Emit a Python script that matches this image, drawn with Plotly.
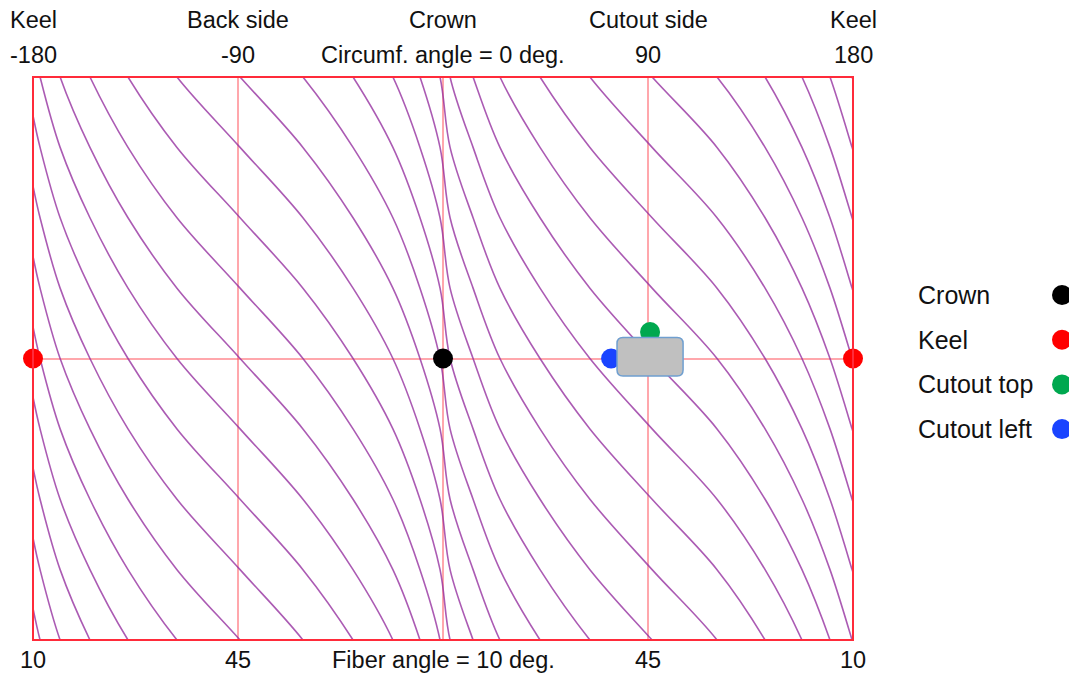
import plotly.graph_objects as go

# ---- data ----
# one fiber path: circumferential angle (deg) vs axial position (in units of line spacing)
path_circ_deg = [-180, -176.9, -168.1, -155.0, -138.3, -116.8, -89.1, -61.5, -39.5, -22.0,
                 -10.1, -1.3, 3.1, 13.2, 25.0, 42.6, 64.5, 91.8, 120.3, 141.4, 157.6,
                 169.9, 179.6, 180]
path_axial = [0.45, 0, -1, -2, -3, -4, -5, -6, -7, -8, -9, -10, -11, -12, -13, -14, -15,
              -16, -17, -18, -19, -20, -21, -21.04]
path_offsets = list(range(0, 31))   # repeated windings of the fiber path

top_ticks = [-180, -90, 0, 90, 180]
top_row1 = ["Keel", "Back side", "Crown", "Cutout side", "Keel"]
top_row2 = ["-180", "-90", "Circumf. angle = 0 deg.", "90", "180"]
bottom_row = ["10", "45", "Fiber angle = 10 deg.", "45", "10"]

point_x = [0, -180, 180, 90.9, 73.8]
point_y = [4.0, 4.0, 4.0, 4.375, 4.0]
point_colors = ["#000000", "#ff0000", "#ff0000", "#00a84f", "#1a44ff"]

legend_names = ["Crown", "Keel", "Cutout top", "Cutout left"]
legend_colors = ["#000000", "#ff0000", "#00a84f", "#1a44ff"]

cutout_x = [76.4, 105.4]
cutout_y = [3.75, 4.30]

X_RANGE = [-180, 180]
Y_RANGE = [0, 8]
FONT = "Liberation Sans, Arial, Helvetica, sans-serif"
AX_FS = 23.5
LEG_FS = 25

fig = go.Figure()

# fiber paths
xs, ys = [], []
for k in path_offsets:
    xs += path_circ_deg + [None]
    ys += [a + k for a in path_axial] + [None]
fig.add_trace(go.Scatter(x=xs, y=ys, mode="lines",
                         line=dict(color="rgba(150,50,160,0.8)", width=1.6, shape="spline"),
                         hoverinfo="skip", showlegend=False))

# cutout rectangle (rounded)
rx, ry = 2.6, 0.085
x0, x1 = cutout_x
y0, y1 = cutout_y
path = (f"M {x0+rx},{y0} L {x1-rx},{y0} Q {x1},{y0} {x1},{y0+ry} "
        f"L {x1},{y1-ry} Q {x1},{y1} {x1-rx},{y1} L {x0+rx},{y1} Q {x0},{y1} {x0},{y1-ry} "
        f"L {x0},{y0+ry} Q {x0},{y0} {x0+rx},{y0} Z")
fig.add_shape(type="path", path=path, xref="x", yref="y",
              fillcolor="#c0c0c0", line=dict(color="#6f9fd0", width=1.5), layer="above")

# points
fig.add_trace(go.Scatter(x=point_x, y=point_y, mode="markers",
                         marker=dict(size=20, color=point_colors),
                         cliponaxis=False, showlegend=False, hoverinfo="skip"))

# plot border
fig.add_shape(type="rect", xref="paper", yref="paper", x0=0, x1=1, y0=0, y1=1,
              line=dict(color="#ff2b3a", width=2), layer="above")

# labels
for tx, r1, r2, b in zip(top_ticks, top_row1, top_row2, bottom_row):
    fig.add_annotation(x=tx, y=1, xref="x", yref="paper", text=r1, showarrow=False,
                       yanchor="middle", xanchor="center", yshift=57,
                       font=dict(size=AX_FS, color="#111", family=FONT))
    fig.add_annotation(x=tx, y=1, xref="x", yref="paper", text=r2, showarrow=False,
                       yanchor="middle", xanchor="center", yshift=22,
                       font=dict(size=AX_FS, color="#111", family=FONT))
    fig.add_annotation(x=tx, y=0, xref="x", yref="paper", text=b, showarrow=False,
                       yanchor="middle", xanchor="center", yshift=-20,
                       font=dict(size=AX_FS, color="#111", family=FONT))

# custom legend (text left, dot right)
W, H = 1069, 673
L, R, T, B = 33, 216, 77, 33
pw, ph = W - L - R, H - T - B
for i, (nm, col) in enumerate(zip(legend_names, legend_colors)):
    ypx = 295 + i * 44.7
    yp = (H - B - ypx) / ph
    fig.add_annotation(x=(916 - L) / pw, y=yp, xref="paper", yref="paper", text=nm,
                       showarrow=False, xanchor="left", yanchor="middle",
                       font=dict(size=LEG_FS, color="#111", family=FONT))
    fig.add_shape(type="circle", xref="paper", yref="paper", xsizemode="pixel",
                  ysizemode="pixel", xanchor=(1062 - L) / pw, yanchor=yp,
                  x0=-10, x1=10, y0=-10, y1=10, fillcolor=col, line=dict(width=0))

fig.update_xaxes(range=X_RANGE, showticklabels=False, ticks="", zeroline=False,
                 showgrid=True, tickvals=[-90, 0, 90], gridcolor="rgba(255,80,90,0.5)",
                 gridwidth=2, showline=False)
fig.update_yaxes(range=Y_RANGE, showticklabels=False, ticks="", zeroline=False,
                 showgrid=True, tickvals=[4], gridcolor="rgba(255,80,90,0.5)",
                 gridwidth=2, showline=False)
fig.update_layout(width=W, height=H, margin=dict(l=L, r=R, t=T, b=B),
                  plot_bgcolor="white", paper_bgcolor="white", showlegend=False)

fig.write_html("out.html")
